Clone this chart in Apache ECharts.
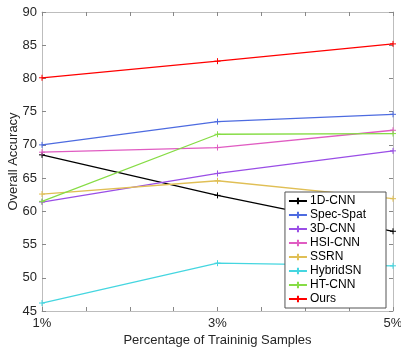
<!DOCTYPE html>
<html>
  <head>
    <meta charset="utf-8" />
    <title>Overall Accuracy</title>
    <script src="https://cdn.jsdelivr.net/npm/echarts@6/dist/echarts.min.js"></script>
  </head>
  <body style="margin:0">
    <div id="container" style="width: 401px;height: 350px;"></div>
    <script type="text/javascript">
    // 训练样本比例 (%)
    var percents = [1, 3, 5];
    var names = ['1D-CNN', 'Spec-Spat', '3D-CNN', 'HSI-CNN', 'SSRN', 'HybridSN', 'HT-CNN', 'Ours'];
    var colors = ['#000000', '#4d6be0', '#9a4ee6', '#e05cc2', '#e0bf55', '#45d6e0', '#86dc45', '#ff0000'];

    var cnn1d    = [68.5, 62.4, 57.0];
    var specSpat = [70.0, 73.5, 74.6];
    var cnn3d    = [61.4, 65.7, 69.1];
    var hsiCnn   = [68.9, 69.6, 72.2];
    var ssrn     = [62.6, 64.6, 61.9];
    var hybridSN = [46.2, 52.2, 51.8];
    var htCnn    = [61.5, 71.6, 71.7];
    var ours     = [80.1, 82.6, 85.2];
    var allData = [cnn1d, specSpat, cnn3d, hsiCnn, ssrn, hybridSN, htCnn, ours];

    var plus = 'path://M0,5 L10,5 M5,0 L5,10';
    var textColor = '#262626';
    var axisGray = '#bdbdbd';

    var myChart = echarts.init(document.getElementById('container'));

    var series = names.map(function (n, i) {
      return {
        name: n,
        type: 'line',
        data: percents.map(function (p, k) { return [p, allData[i][k]]; }),
        symbol: plus,
        symbolSize: 6,
        lineStyle: { color: colors[i], width: 1.3 },
        itemStyle: { color: colors[i], borderColor: colors[i], borderWidth: 1 },
        emphasis: { disabled: true },
        animation: false
      };
    });

    var tickAxis = function (pos, show) {
      return {
        position: pos,
        axisLine: { show: true, lineStyle: { color: axisGray, width: 1 } },
        axisTick: { show: true, inside: true, length: 4, lineStyle: { color: '#888' } },
        splitLine: { show: false },
        axisLabel: { show: show, color: textColor, fontSize: 13, fontFamily: 'Liberation Sans' }
      };
    };

    var xBottom = Object.assign(tickAxis('bottom', true), {
      type: 'value', min: 1, max: 5, interval: 0.5,
      name: 'Percentage of Traininig Samples',
      nameLocation: 'middle', nameGap: 23, nameMoveOverlap: false,
      nameTextStyle: { color: textColor, fontSize: 13, fontFamily: 'Liberation Sans' }
    });
    xBottom.axisLabel.formatter = function (v) { return (v % 2 === 1) ? v + '%' : ''; };
    xBottom.axisLabel.margin = 6;
    var xTop = Object.assign(tickAxis('top', false), { type: 'value', min: 1, max: 5, interval: 0.5 });

    var yLeft = Object.assign(tickAxis('left', true), {
      type: 'value', min: 45, max: 90, interval: 5,
      name: 'Overall Accuracy',
      nameLocation: 'middle', nameGap: 22, nameMoveOverlap: false,
      nameTextStyle: { color: textColor, fontSize: 13, fontFamily: 'Liberation Sans' }
    });
    yLeft.axisLabel.margin = 5;
    var yRight = Object.assign(tickAxis('right', false), { type: 'value', min: 45, max: 90, interval: 5 });

    var option = {
      backgroundColor: '#ffffff',
      grid: { left: 42, right: 8, top: 12, bottom: 39, containLabel: false, outerBoundsMode: 'none' },
      xAxis: [xBottom, xTop],
      yAxis: [yLeft, yRight],
      legend: {
        orient: 'vertical',
        right: 15, top: 192,
        itemWidth: 18, itemHeight: 8, itemGap: 2,
        padding: [3, 20, 3, 3],
        backgroundColor: '#ffffff',
        borderColor: '#555', borderWidth: 1,
        textStyle: { color: '#000', fontSize: 12, fontFamily: 'Liberation Sans', padding: [0, 0, 0, -2] },
        data: names
      },
      series: series
    };
    myChart.setOption(option);

    window.addEventListener('resize', myChart.resize);
    </script>
  </body>
</html>
